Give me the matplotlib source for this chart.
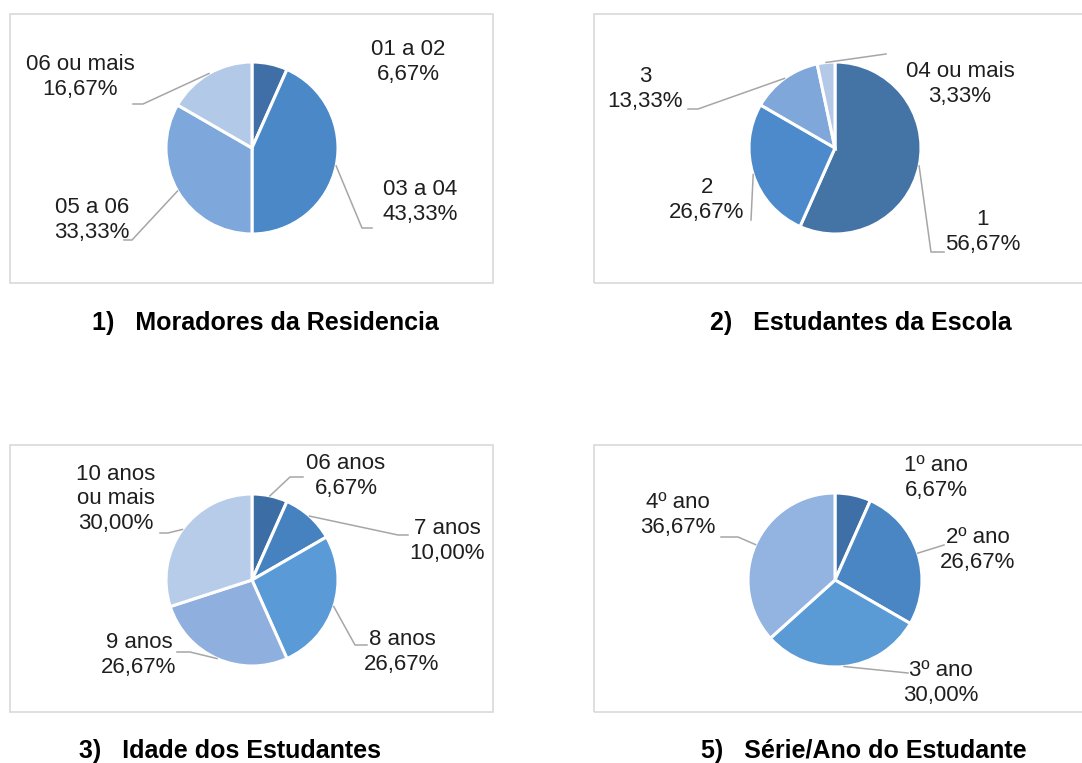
import numpy as np
import matplotlib

matplotlib.use("Agg")
import matplotlib.pyplot as plt
from matplotlib.patches import Rectangle

W, H = 1082, 763

# 1) Moradores da Residencia
mor_labels = ["01 a 02", "03 a 04", "05 a 06", "06 ou mais"]
mor_values = [6.67, 43.33, 33.33, 16.67]
mor_colors = ["#3f6fa6", "#4a88c7", "#7ea8db", "#b3c9e8"]

# 2) Estudantes da Escola
est_labels = ["1", "2", "3", "04 ou mais"]
est_values = [56.67, 26.67, 13.33, 3.33]
est_colors = ["#4474a6", "#4d8acb", "#7fa7da", "#b4c8e7"]

# 3) Idade dos Estudantes
ida_labels = ["06 anos", "7 anos", "8 anos", "9 anos", "10 anos\nou mais"]
ida_values = [6.67, 10.00, 26.67, 26.67, 30.00]
ida_colors = ["#3c6ea5", "#4681c0", "#5a9ad6", "#8fb0de", "#b7cce9"]

# 5) Série/Ano do Estudante
ser_labels = ["1º ano", "2º ano", "3º ano", "4º ano"]
ser_values = [6.67, 26.67, 30.00, 36.67]
ser_colors = ["#3e6fa6", "#4a86c4", "#5b9bd5", "#93b3e0"]

titles = [
    "1)   Moradores da Residencia",
    "2)   Estudantes da Escola",
    "3)   Idade dos Estudantes",
    "5)   Série/Ano do Estudante",
]

FONT = "Liberation Sans"
LEADER = "#a6a6a6"
BOX = "#d9d9d9"

# layout per panel (pixel coords, y down): box, pie centre/radius, title pos,
# label centres and leader elbows
panels = [
    dict(labels=mor_labels, values=mor_values, colors=mor_colors,
         box=(10, 14, 483, 269), center=(252, 148), r=86, tpos=(265, 323),
         text=[(408, 62), (420, 202), (92, 220), (80, 77)],
         paths=[None, [(362, 228), (372, 228)], [(132, 240), (124, 240)],
                [(143, 104), (133, 104)]]),
    dict(labels=est_labels, values=est_values, colors=est_colors,
         box=(594, 14, 600, 269), center=(835, 148), r=86, tpos=(861, 323),
         text=[(983, 232), (707, 200), (645, 89), (960, 84)],
         paths=[[(931, 252), (944, 252)], [(751, 220)], [(698, 109), (688, 109)],
                [(886, 54)]]),
    dict(labels=ida_labels, values=ida_values, colors=ida_colors,
         box=(10, 445, 483, 267), center=(252, 580), r=86, tpos=(230, 751),
         text=[(346, 476), (447, 541), (402, 652), (139, 655), (116, 499)],
         paths=[[(290, 477), (303, 477)], [(398, 535), (408, 535)],
                [(355, 645), (367, 645)], [(190, 652), (177, 652)],
                [(168, 533), (160, 533)]]),
    dict(labels=ser_labels, values=ser_values, colors=ser_colors,
         box=(594, 445, 600, 267), center=(835, 580), r=87, tpos=(864, 751),
         text=[(936, 478), (978, 550), (941, 683), (678, 515)],
         paths=[None, [(944, 545)], [(908, 673)], [(738, 537), (721, 537)]]),
]


def fy(y):
    return H - y


def pct(v):
    return f"{v:.2f}%".replace(".", ",")


fig = plt.figure(figsize=(W / 100, H / 100), dpi=100)
ax = fig.add_axes([0, 0, 1, 1])

for p, title in zip(panels, titles):
    bx, by, bw, bh = p["box"]
    ax.add_patch(Rectangle((bx, fy(by + bh)), bw, bh, fill=False,
                           edgecolor=BOX, lw=1.2, zorder=1))
    cx, cy = p["center"]
    r = p["r"]
    vals = p["values"]
    ax.pie(vals, colors=p["colors"], startangle=90, counterclock=False,
           center=(cx, fy(cy)), radius=r,
           wedgeprops=dict(edgecolor="white", linewidth=2.2))

    total = sum(vals)
    before = np.cumsum([0] + vals[:-1])
    for lab, v, b, (tx, ty), path in zip(p["labels"], vals, before,
                                         p["text"], p["paths"]):
        ang = np.deg2rad(90 - 360 * (b + v / 2) / total)
        if path:
            xs = [cx + r * np.cos(ang)] + [q[0] for q in path]
            ys = [fy(cy) + r * np.sin(ang)] + [fy(q[1]) for q in path]
            ax.plot(xs, ys, color=LEADER, lw=1.1, zorder=3)
        ax.text(tx, fy(ty), f"{lab}\n{pct(v)}", ha="center", va="center",
                fontsize=16, family=FONT, color="#1f1f1f",
                linespacing=1.2, zorder=4)

    tx, ty = p["tpos"]
    ax.text(tx, fy(ty), title, ha="center", va="center",
            fontsize=18, fontweight="bold", family=FONT, color="black")

ax.set_xlim(0, W)
ax.set_ylim(0, H)
ax.set_aspect("equal")
ax.axis("off")

fig.savefig("out.png", dpi=100, facecolor="white")
